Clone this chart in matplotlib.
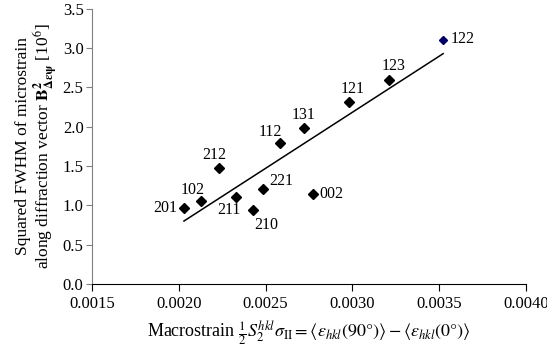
import matplotlib
matplotlib.use("Agg")
import matplotlib.pyplot as plt
import numpy as np

plt.rcParams['font.family'] = ['Liberation Serif', 'DejaVu Serif']
plt.rcParams['mathtext.fontset'] = 'stix'

labels = ['201', '102', '212', '211', '210', '221', '002', '112', '131', '121', '123', '122']
macrostrain = [0.002029, 0.002128, 0.002229, 0.002332, 0.002428, 0.002486,
               0.002774, 0.002580, 0.002720, 0.002979, 0.003211, 0.003522]
fwhm_sq = [0.97, 1.06, 1.48, 1.11, 0.94, 1.21, 1.15, 1.79, 1.98, 2.31, 2.60, 3.10]

fit_x = [0.00203, 0.003522]
fit_y = [0.80, 2.93]

# label offsets (pixels) and alignment
offsets = {
    '201': (-7, 0, 'right'),
    '102': (-8, 11, 'center'),
    '212': (-4, 13, 'center'),
    '211': (-7, -13, 'center'),
    '210': (13, -15, 'center'),
    '221': (6, 8, 'left'),
    '002': (6, 0, 'left'),
    '112': (-9, 11, 'center'),
    '131': (0, 13, 'center'),
    '121': (4, 13, 'center'),
    '123': (4, 14, 'center'),
    '122': (7, 1, 'left'),
}

fig = plt.figure(figsize=(5.47, 3.54), dpi=100)
ax = fig.add_axes([0.168, 0.198, 0.794, 0.777])

ax.plot(fit_x, fit_y, color='black', lw=1.1)
for lab, x, y in zip(labels, macrostrain, fwhm_sq):
    if lab == '122':
        ax.plot(x, y, marker='D', ms=4, color='#000066', ls='none')
    else:
        ax.plot(x, y, marker='D', ms=5, color='black', ls='none')
    dx, dy, ha = offsets[lab]
    ax.annotate(lab, (x, y), xytext=(dx, dy), textcoords='offset pixels',
                ha=ha, va='center', fontsize=11.5)

ax.set_xlim(0.0015, 0.0040)
ax.set_ylim(0.0, 3.5)
ax.set_xticks(np.arange(0.0015, 0.00401, 0.0005))
ax.set_xticklabels(['0.0015', '0.0020', '0.0025', '0.0030', '0.0035', '0.0040'])
ax.set_yticks(np.arange(0, 3.51, 0.5))
ax.set_yticklabels(['%.1f' % v for v in np.arange(0, 3.51, 0.5)])

for s in ['top', 'right']:
    ax.spines[s].set_visible(False)
ax.spines['left'].set_color('#808080')
ax.spines['bottom'].set_color('black')
ax.tick_params(axis='x', direction='out', length=5, labelsize=12, colors='black', pad=4)
ax.tick_params(axis='y', direction='out', length=4, labelsize=12, color='#808080',
               labelcolor='black', pad=2)

ax.set_xlabel(r'Macrostrain $\frac{1}{2}S_2^{hkl}\sigma_{\mathrm{II}} = '
              r'\left\langle\varepsilon_{hkl}\left(90°\right)\right\rangle - '
              r'\left\langle\varepsilon_{hkl}\left(0°\right)\right\rangle$',
              fontsize=13, labelpad=5)
ax.set_ylabel('Squared FWHM of microstrain\n'
              r'along diffraction vector $\mathbf{B}^{\mathbf{2}}_{\mathbf{\Delta\varepsilon\psi}}$ [10$^6$]',
              fontsize=12.5, labelpad=2, linespacing=1.0)

fig.savefig('out.png', dpi=100)
